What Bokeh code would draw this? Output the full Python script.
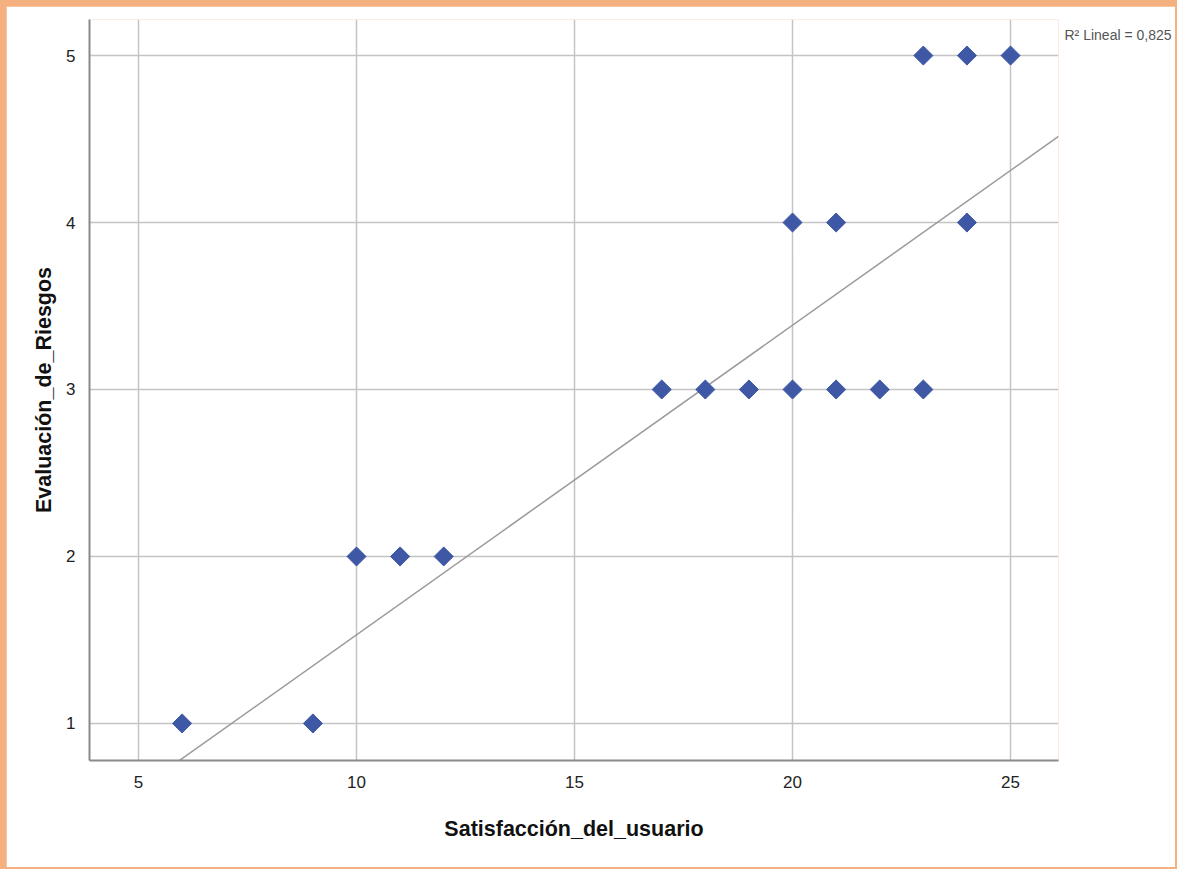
from bokeh.plotting import figure
from bokeh.layouts import column
from bokeh.models import Range1d, FixedTicker, LinearAxis
from bokeh.embed import file_html
from bokeh.resources import INLINE

# Data
satisfaccion = [6, 9, 10, 11, 12, 17, 18, 19, 20, 21, 22, 23, 20, 21, 24, 23, 24, 25]
evaluacion = [1, 1, 2, 2, 2, 3, 3, 3, 3, 3, 3, 3, 4, 4, 4, 5, 5, 5]
x_ticks = [5, 10, 15, 20, 25]
y_ticks = [1, 2, 3, 4, 5]
fit_slope = 0.1854
fit_intercept = -0.323
r2_text = "R\u00b2 Lineal = 0,825"

X0, X1 = 3.876, 26.1
Y0, Y1 = 0.778, 5.216
R2_POS = 5.126

FONT = "Liberation Sans"

p = figure(width=1169, height=861, output_backend="svg", toolbar_location=None,
           x_range=Range1d(X0, X1), y_range=Range1d(Y0, Y1),
           min_border_left=83, min_border_right=117, min_border_top=13, min_border_bottom=107)

p.outline_line_color = None
p.background_fill_color = "white"
p.border_fill_color = "white"

for g in (p.xgrid, p.ygrid):
    g.grid_line_color = "#C4C4C4"
    g.grid_line_width = 1.5
p.xaxis.ticker = FixedTicker(ticks=x_ticks)
p.yaxis.ticker = FixedTicker(ticks=y_ticks)

for ax in (p.xaxis, p.yaxis):
    ax.axis_line_color = "#8A8A8A"
    ax.axis_line_width = 2
    ax.major_tick_line_color = None
    ax.minor_tick_line_color = None
    ax.major_label_text_font = FONT
    ax.major_label_text_font_size = "17px"
    ax.major_label_text_color = "#222222"
    ax.axis_label_text_font = FONT
    ax.axis_label_text_font_style = "bold"
    ax.axis_label_text_font_size = "21.5px"
    ax.axis_label_text_color = "#111111"

p.xaxis.axis_label = "Satisfacción_del_usuario"
p.yaxis.axis_label = "Evaluación_de_Riesgos"
p.xaxis.major_label_standoff = 9
p.yaxis.major_label_standoff = 8
p.xaxis.axis_label_standoff = 26
p.yaxis.axis_label_standoff = 7

# R² annotation as a label on a bare right axis (outside the frame)
r2_axis = LinearAxis(ticker=FixedTicker(ticks=[R2_POS]),
                     major_label_overrides={R2_POS: r2_text})
r2_axis.axis_line_color = None
r2_axis.major_tick_line_color = None
r2_axis.minor_tick_line_color = None
r2_axis.major_label_standoff = 0
r2_axis.major_label_text_font = FONT
r2_axis.major_label_text_font_size = "14px"
r2_axis.major_label_text_color = "#555555"
p.add_layout(r2_axis, "right")

# Fit line
lx = [X0, X1]
ly = [fit_intercept + fit_slope * v for v in lx]
p.line(lx, ly, line_color="#9A9A9A", line_width=1.5)

p.scatter(satisfaccion, evaluacion, marker="square", angle=0.7853981634, size=13.5,
          fill_color="#3F58A6", line_color="#3F58A6")

layout = column(p, styles={"background-color": "#F5B080", "padding": "6px 2px 2px 6px"})

open("out.html", "w").write(file_html(layout, INLINE))
